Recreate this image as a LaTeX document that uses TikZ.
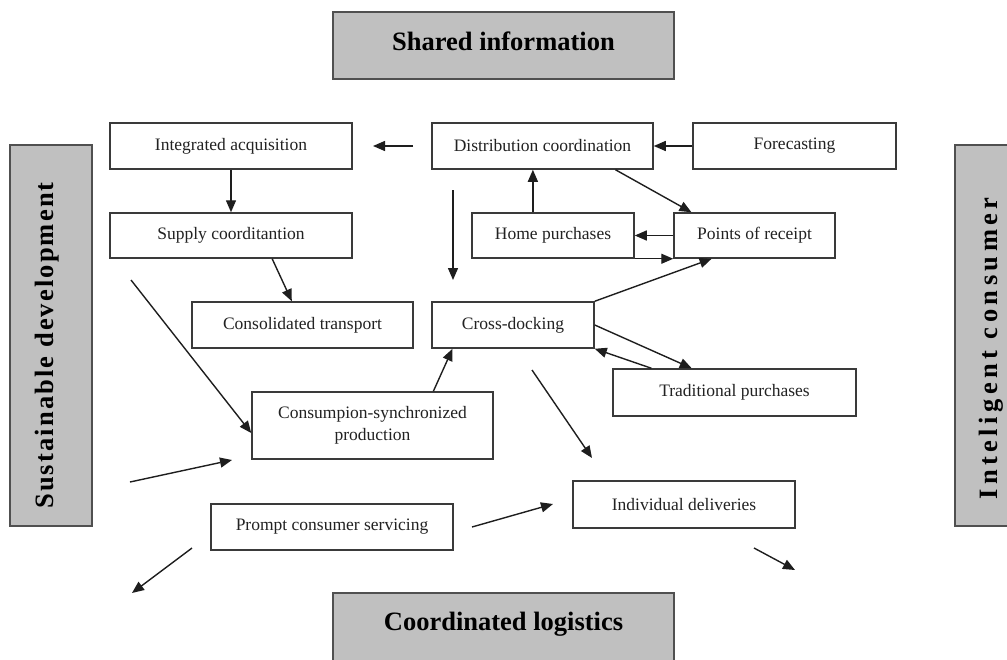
\documentclass[tikz,border=0pt]{standalone}
\usepackage{fontspec}
\setmainfont{Liberation Serif}
\newfontfamily\sdfont[LetterSpace=8]{Liberation Serif}
\newfontfamily\icfont[LetterSpace=17]{Liberation Serif}
\usetikzlibrary{arrows.meta,calc}
\definecolor{boxline}{HTML}{3A3A3A}
\definecolor{txt}{HTML}{222222}
\definecolor{themefill}{HTML}{C0C0C0}
\definecolor{themeline}{HTML}{505050}
\definecolor{arrcol}{HTML}{1E1E1E}
\begin{document}
\begin{tikzpicture}[x=1pt,y=-1pt,
  stepbox/.style={draw=boxline,line width=1.5pt,fill=white,inner sep=0pt,
    font=\fontsize{17.5}{22}\selectfont,text=txt,align=center},
  theme/.style={draw=themeline,line width=1.8pt,fill=themefill,inner sep=0pt,
    font=\fontsize{26.5}{30}\selectfont\bfseries,text=black},
  arr/.style={draw=arrcol,line width=1.4pt,-{Triangle[length=12pt,width=10pt]}}]
\useasboundingbox (0,0) rectangle (1007,659);
% theme boxes
\node[theme,minimum width=341pt,minimum height=67pt,text depth=9pt] (si) at (503.5,45.5) {Shared information};
\node[theme,minimum width=341pt,minimum height=68pt,text depth=12pt] (cl) at (503.5,627) {Coordinated logistics};
\node[theme,rotate=90,minimum width=381pt,minimum height=82pt,text depth=14pt] (sd) at (51,335.5) {\sdfont\bfseries Sustainable development\kern20pt};
\node[theme,rotate=90,minimum width=381pt,minimum height=82pt,text depth=16pt] (ic) at (996,335.5) {\icfont\bfseries Inteligent consumer\kern26pt};
% process boxes
\node[stepbox,minimum width=242pt,minimum height=46pt] (ia) at (231,146) {Integrated acquisition};
\node[stepbox,minimum width=242pt,minimum height=45pt] (sc) at (231,235.5) {Supply coorditantion};
\node[stepbox,minimum width=221pt,minimum height=46pt] (ct) at (302.5,325) {Consolidated transport};
\node[stepbox,minimum width=221pt,minimum height=46pt] (dc) at (542.5,146) {Distribution coordination};
\node[stepbox,minimum width=203pt,minimum height=46pt] (fc) at (794.5,146) {Forecasting};
\node[stepbox,minimum width=162pt,minimum height=45pt] (hp) at (553,235.5) {Home purchases};
\node[stepbox,minimum width=161pt,minimum height=45pt] (pr) at (754.5,235.5) {Points of receipt};
\node[stepbox,minimum width=162pt,minimum height=46pt] (cd) at (513,325) {Cross-docking};
\node[stepbox,minimum width=243pt,minimum height=47pt] (tp) at (734.5,392.5) {Traditional purchases};
\node[stepbox,minimum width=241pt,minimum height=67pt] (csp) at (372.5,425.5) {Consumpion-synchronized\\production};
\node[stepbox,minimum width=242pt,minimum height=46pt] (pcs) at (332,527) {Prompt consumer servicing};
\node[stepbox,minimum width=222pt,minimum height=47pt] (id) at (684,504.5) {Individual deliveries};
% free end points
\coordinate (f1s) at (413,146); \coordinate (f1e) at (373,146);
\coordinate (f2s) at (131,280);
\coordinate (f3s) at (453,190); \coordinate (f3e) at (453,280);
\coordinate (f4s) at (532,370); \coordinate (f4e) at (592,458);
\coordinate (f5s) at (130,482); \coordinate (f5e) at (232,460);
\coordinate (f6s) at (472,527); \coordinate (f6e) at (553,504);
\coordinate (f7s) at (192,548); \coordinate (f7e) at (132,593);
\coordinate (f8s) at (754,548); \coordinate (f8e) at (795,570);
% connectors
\draw[arr] (f1s) -- (f1e);
\draw[arr] (ia.south) -- (sc.north);
\draw[arr] ($(sc.south west)!0.669!(sc.south east)$) -- ($(ct.north west)!0.452!(ct.north east)$);
\draw[arr] (f2s) -- ($(csp.north west)!0.61!(csp.south west)$);
\draw[arr] (f3s) -- (f3e);
\coordinate (hpt) at ($(hp.north west)!0.377!(hp.north east)$);
\draw[arr] (hpt) -- (hpt |- dc.south);
\draw[arr] (fc.west) -- (dc.east);
\draw[arr] ($(dc.south west)!0.828!(dc.south east)$) -- ($(pr.north west)!0.112!(pr.north east)$);
\draw[arr] (pr.west) -- (hp.east);
\draw[arr] (hp.south east) -- (pr.south west);
\draw[arr] (cd.north east) -- ($(pr.south west)!0.236!(pr.south east)$);
\draw[arr] (cd.east) -- ($(tp.north west)!0.325!(tp.north east)$);
\draw[arr] ($(tp.north west)!0.16!(tp.north east)$) -- (cd.south east);
\draw[arr] ($(csp.north west)!0.751!(csp.north east)$) -- ($(cd.south west)!0.13!(cd.south east)$);
\draw[arr] (f4s) -- (f4e);
\draw[arr] (f5s) -- (f5e);
\draw[arr] (f6s) -- (f6e);
\draw[arr] (f7s) -- (f7e);
\draw[arr] (f8s) -- (f8e);
\end{tikzpicture}
\end{document}
